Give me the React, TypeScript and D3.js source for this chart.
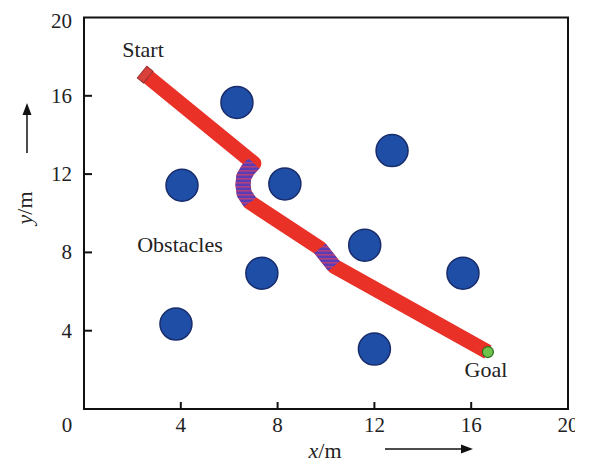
import React from "react";
import * as d3 from "d3";

// Obstacles (centres, metres)
const obstacleX = [6.32, 4.05, 8.3, 12.73, 7.35, 3.8, 11.6, 15.66, 12.0];
const obstacleY = [15.66, 11.43, 11.5, 13.2, 6.94, 4.34, 8.37, 6.94, 3.06];

// Planned path (metres)
const pathX = [2.56, 7.02, 6.76, 6.6, 6.57, 6.62, 6.86, 9.75, 10.33, 16.69];
const pathY = [17.05, 12.55, 12.2, 11.85, 11.45, 11.0, 10.56, 8.21, 7.3, 2.91];
// index ranges drawn as the avoidance (blue) manoeuvres
const avoidSegments = [
  [1, 6],
  [7, 8],
];

const xTicks = [4, 8, 12, 16];
const yTicks = [4, 8, 12, 16];
const xTickLabels = ["0", "4", "8", "12", "16", "20"];
const xTickLabelValues = [0, 4, 8, 12, 16, 20];
const yTickLabels = ["4", "8", "12", "16", "20"];
const yTickLabelValues = [4, 8, 12, 16, 20];

const W = 595;
const H = 468;
const FONT = "'Liberation Serif', 'Times New Roman', serif";

export default function App() {
  const x = d3.scaleLinear().domain([0, 20]).range([84, 568]);
  const y = d3.scaleLinear().domain([0, 20]).range([409, 17.5]);

  const pts: [number, number][] = pathX.map((v, i) => [x(v), y(pathY[i])]);
  const line = d3.line<[number, number]>().x((d) => d[0]).y((d) => d[1]);

  const start = pts[0];
  const goal = pts[pts.length - 1];
  const ang = (Math.atan2(pts[1][1] - start[1], pts[1][0] - start[0]) * 180) / Math.PI;

  const left = x(0);
  const right = x(20);
  const top = y(20);
  const bottom = y(0);

  return (
    <svg
      width={W}
      height={H}
      style={{ position: "absolute", left: 0, top: 0, background: "#fff" }}
      fontFamily={FONT}
    >
      <defs>
        <pattern id="stripes" width="6" height="4" patternUnits="userSpaceOnUse">
          <rect width="6" height="4" fill="#5a3db4" />
          <rect y="2" width="6" height="1.6" fill="#b0407e" />
        </pattern>
        <clipPath id="pageclip">
          <rect x="0" y="0" width="575" height={H} />
        </clipPath>
      </defs>

      {/* obstacles */}
      {obstacleX.map((v, i) => (
        <circle
          key={i}
          cx={x(v)}
          cy={y(obstacleY[i])}
          r={16}
          fill="#1f4ea6"
          stroke="#182c6c"
          strokeWidth={1.5}
        />
      ))}

      {/* path */}
      <path
        d={line(pts) || ""}
        fill="none"
        stroke="#ea3128"
        strokeWidth={15}
        strokeLinejoin="round"
        strokeLinecap="butt"
      />
      {avoidSegments.map(([a, b], i) => (
        <path
          key={i}
          d={line(pts.slice(a, b + 1)) || ""}
          fill="none"
          stroke="url(#stripes)"
          strokeWidth={15}
          strokeLinecap="butt"
          strokeLinejoin="round"
        />
      ))}
      {/* start marker */}
      <rect
        x={-5}
        y={-7.5}
        width={8}
        height={15}
        fill="#d9403a"
        stroke="#9a3030"
        strokeWidth={1}
        transform={`translate(${start[0]},${start[1]}) rotate(${ang})`}
      />
      {/* goal marker */}
      <circle cx={goal[0]} cy={goal[1]} r={5.5} fill="#6cc24a" stroke="#2c6a22" strokeWidth={1.2} />

      {/* frame */}
      <rect
        x={left}
        y={top}
        width={right - left}
        height={bottom - top}
        fill="none"
        stroke="#111"
        strokeWidth={2}
      />
      {/* ticks (inward) */}
      {xTicks.map((t) => (
        <line key={"xt" + t} x1={x(t)} x2={x(t)} y1={bottom} y2={bottom - 7} stroke="#111" strokeWidth={2} />
      ))}
      {yTicks.map((t) => (
        <line key={"yt" + t} x1={left} x2={left + 8} y1={y(t)} y2={y(t)} stroke="#111" strokeWidth={2} />
      ))}

      {/* tick labels */}
      <g clipPath="url(#pageclip)" fontSize={21} fill="#222">
        {xTickLabelValues.map((v, i) => (
          <text
            key={"xl" + v}
            x={v === 0 ? x(v) - 17 : x(v)}
            y={432}
            textAnchor="middle"
          >
            {xTickLabels[i]}
          </text>
        ))}
        {yTickLabelValues.map((v, i) => (
          <text key={"yl" + v} x={72} y={y(v) + (v === 20 ? 10 : 7)} textAnchor="end">
            {yTickLabels[i]}
          </text>
        ))}
      </g>

      {/* annotations */}
      <text x={143} y={57} fontSize={22} textAnchor="middle" fill="#222">
        Start
      </text>
      <text x={180} y={252} fontSize={22} textAnchor="middle" fill="#222">
        Obstacles
      </text>
      <text x={486} y={377} fontSize={22} textAnchor="middle" fill="#222">
        Goal
      </text>

      {/* axis titles */}
      <text x={325} y={458} fontSize={22} textAnchor="middle" fill="#222">
        <tspan fontStyle="italic">x</tspan>/m
      </text>
      <text transform="translate(32,208) rotate(-90)" fontSize={22} textAnchor="middle" fill="#222">
        <tspan fontStyle="italic">y</tspan>/m
      </text>

      {/* arrows */}
      <line x1={385} x2={463} y1={449} y2={449} stroke="#111" strokeWidth={1.5} />
      <path d="M473,449 L461,444.5 L461,453.5 Z" fill="#111" />
      <line x1={27} x2={27} y1={153} y2={113} stroke="#111" strokeWidth={1.5} />
      <path d="M27,103 L22.5,115 L31.5,115 Z" fill="#111" />
    </svg>
  );
}
